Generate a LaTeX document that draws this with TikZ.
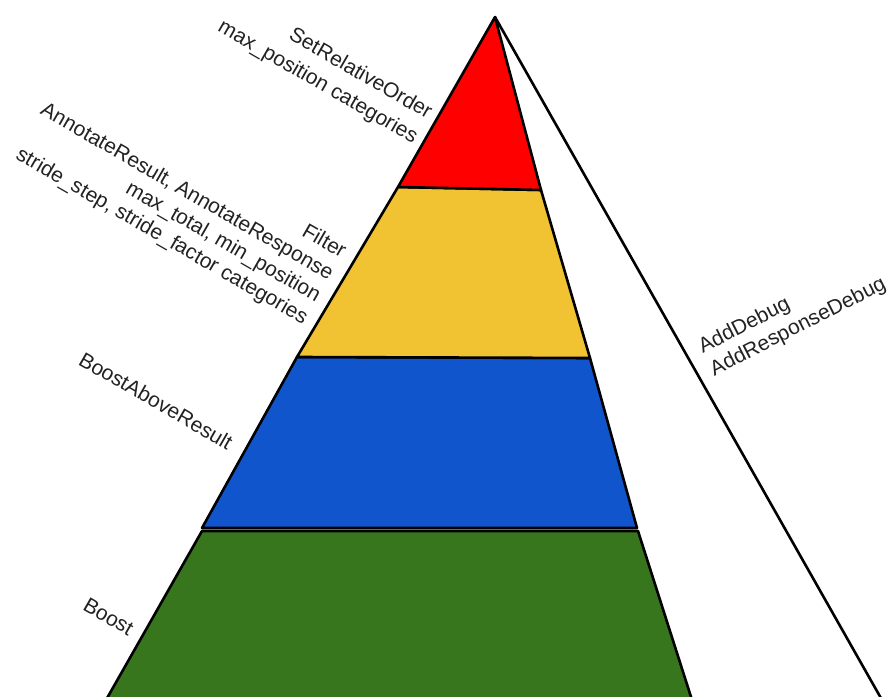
\documentclass[tikz,border=0pt]{standalone}
\usepackage{fontspec}
\setmainfont{Liberation Sans}
\definecolor{pred}{HTML}{FF0000}
\definecolor{pyellow}{HTML}{F1C232}
\definecolor{pblue}{HTML}{1155CC}
\definecolor{pgreen}{HTML}{38761D}
\definecolor{txt}{HTML}{222222}
\begin{document}
\begin{tikzpicture}[x=1pt,y=1pt,
  band/.style={draw=black,line width=2.6pt,line join=round},
  lbl/.style={font=\fontsize{21}{25.5}\selectfont, text=txt, inner sep=0pt}]
\useasboundingbox (0,0) rectangle (891,696);
\begin{scope}
\clip (0,0) rectangle (891,696);
\draw[line width=2.6pt] (495,679) -- (882,-4);
\filldraw[band,fill=pgreen] (202,165) -- (638,165) -- (692,-4) -- (106,-4) -- cycle;
\filldraw[band,fill=pblue] (297,339) -- (590,338) -- (637,168) -- (202,168) -- cycle;
\filldraw[band,fill=pyellow] (398,509) -- (541,506) -- (590,338) -- (297,339) -- cycle;
\filldraw[band,fill=pred] (495,679) -- (398,509) -- (541,506) -- cycle;
\end{scope}
\node[lbl, rotate=-30, anchor=east, align=right] (sro) at (423,569) {SetRelativeOrder\\[3pt]max\_position categories};
\node[lbl, rotate=-30, anchor=east, align=right] (flt) at (325,409) {Filter\\AnnotateResult, AnnotateResponse\\max\_total, min\_position\\stride\_step, stride\_factor categories};
\node[lbl, rotate=-30, anchor=east] (bar) at (231,252) {BoostAboveResult};
\node[lbl, rotate=-30, anchor=east] (bst) at (132,66) {Boost};
\node[lbl, rotate=27, anchor=west, align=left] (dbg) at (706,336) {AddDebug\\AddResponseDebug};
\end{tikzpicture}
\end{document}
